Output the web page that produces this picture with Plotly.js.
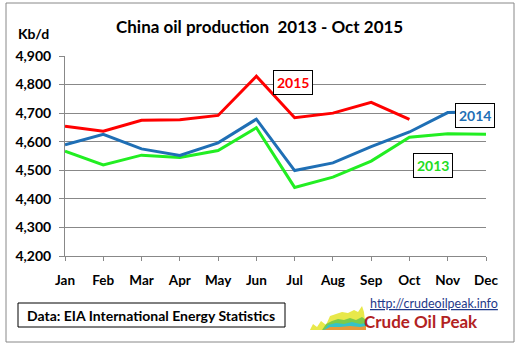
<!DOCTYPE html>
<html><head><meta charset="utf-8">
<script src="https://cdn.plot.ly/plotly-3.0.1.min.js"></script>
<style>html,body{margin:0;padding:0;background:#fff;}#chart{width:529px;height:351px;}</style>
</head><body><div id="chart"></div>
<script>
const months = ['Jan','Feb','Mar','Apr','May','Jun','Jul','Aug','Sep','Oct','Nov','Dec'];
const y2013 = [4567,4519,4553,4545,4569,4649,4440,4476,4532,4616,4628,4626];
const y2014 = [4589,4626,4575,4552,4596,4679,4499,4526,4583,4634,4702,4705];
const y2015 = [4654,4637,4675,4677,4692,4829,4684,4700,4738,4678];
const yTicks = [4200,4300,4400,4500,4600,4700,4800,4900];

// plot area in pixels: x 65..486, y 56..256
const L = 65, R = 486, T = 56, B = 256;
const px = x => (x - L) / (R - L);
const py = y => (B - y) / (B - T);
function pathPx(pts){ return 'M' + pts.map(p => px(p[0]).toFixed(4) + ',' + py(p[1]).toFixed(4)).join(' L') + ' Z'; }

const font = "Lato, 'Open Sans', sans-serif";
const traces = [
  {x: months, y: y2013, name: '2013', mode: 'lines', line: {color: '#22EE22', width: 3}},
  {x: months, y: y2014, name: '2014', mode: 'lines', line: {color: '#1F6FB5', width: 3}},
  {x: months.slice(0, y2015.length), y: y2015, name: '2015', mode: 'lines', line: {color: '#FF0000', width: 3}}
];

const shapes = [
  {type: 'rect', xref: 'paper', yref: 'paper', x0: px(6), x1: px(514), y0: py(342), y1: py(3), line: {color: '#888888', width: 1}, layer: 'below'},
  {type: 'rect', xref: 'paper', yref: 'paper', x0: px(18), x1: px(285), y0: py(327), y1: py(303), line: {color: '#000000', width: 1}},
  {type: 'path', xref: 'paper', yref: 'paper', path: pathPx([[310,330],[313,324],[317,327],[321,321],[326,325],[330,316],[336,314],[342,312],[348,313],[354,310],[358,312],[362,306],[364,312],[366,330]]), fillcolor: '#E8E84A', line: {width: 0}},
  {type: 'path', xref: 'paper', yref: 'paper', path: pathPx([[322,330],[326,324],[332,321],[338,319],[344,320],[350,318],[356,320],[362,317],[366,320],[366,330]]), fillcolor: '#7BCB4A', line: {width: 0}},
  {type: 'path', xref: 'paper', yref: 'paper', path: pathPx([[324,330],[328,325],[336,323],[344,324],[352,322],[360,324],[366,323],[366,330]]), fillcolor: '#35C3C8', line: {width: 0}},
  {type: 'path', xref: 'paper', yref: 'paper', path: pathPx([[324,330],[330,327],[340,327],[350,326],[360,327],[366,326],[366,330]]), fillcolor: '#E59A3A', line: {width: 0}}
];

const ann = (text, x, y, f, extra) => Object.assign({text: text, x: px(x), y: py(y), xref: 'paper', yref: 'paper',
  xanchor: 'center', yanchor: 'middle', showarrow: false, font: Object.assign({family: font, size: 13, weight: 'bold', color: '#000'}, f)}, extra || {});
const boxed = {bgcolor: '#fff', bordercolor: '#000', borderwidth: 1, borderpad: 3};

const annotations = [
  ann('China oil production  2013 - Oct 2015', 259, 26, {size: 17}),
  ann('Kb/d', 33, 34, {size: 14}),
  ann('2015', 293, 82, {size: 14, color: '#FF0000'}, boxed),
  ann('2014', 475, 115, {size: 14, color: '#1F6FB5'}, boxed),
  ann('2013', 433, 165, {size: 14, color: '#22DD22'}, boxed),
  ann('Data: EIA International Energy Statistics', 151, 315, {size: 14}),
  ann('<u>http://crudeoilpeak.info</u>', 434, 303, {size: 12.5, weight: 'normal', color: '#1F3A8A'}),
  ann('Crude Oil Peak', 421, 321, {size: 17, color: '#B22222'})
];

const layout = {
  width: 529, height: 351,
  margin: {l: L, r: 529 - R, t: T, b: 351 - B, pad: 0},
  paper_bgcolor: '#fff', plot_bgcolor: '#fff',
  showlegend: false,
  xaxis: {type: 'category', range: [0, 11], showgrid: false, zeroline: false,
    showline: true, linecolor: '#888', linewidth: 1, ticks: 'outside', ticklen: 4, tickcolor: '#888',
    ticklabelstandoff: 8,
    tickfont: {family: font, size: 13.5, weight: 'bold', color: '#000'}, fixedrange: true},
  yaxis: {range: [4200, 4900], tickvals: yTicks, tickformat: ',', showgrid: true, gridcolor: '#888', gridwidth: 1,
    zeroline: false, showline: true, linecolor: '#888', linewidth: 1, ticks: 'outside', ticklen: 5, tickcolor: '#888',
    ticklabelstandoff: 5,
    tickfont: {family: font, size: 14, weight: 'bold', color: '#000'}, fixedrange: true},
  shapes: shapes,
  annotations: annotations
};

Plotly.newPlot('chart', traces, layout, {displayModeBar: false, staticPlot: true});
</script></body></html>
